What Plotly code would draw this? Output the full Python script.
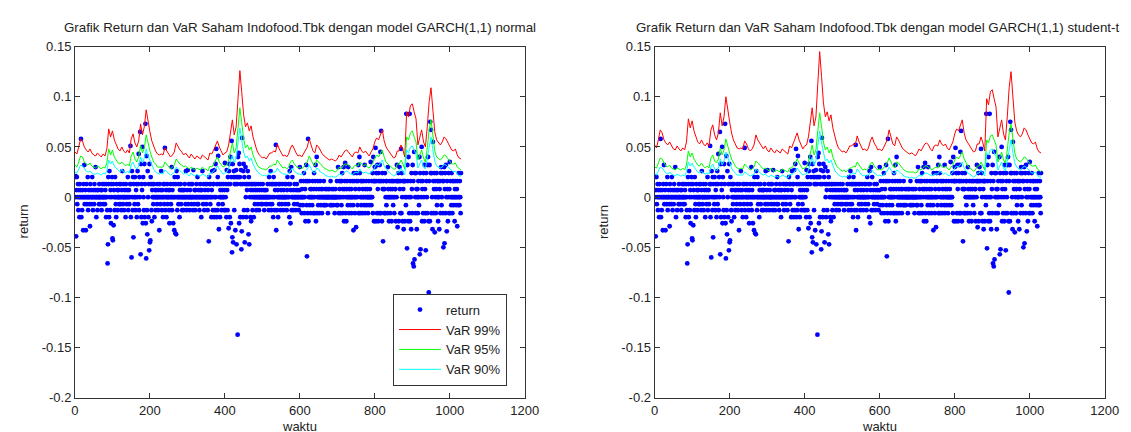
import plotly.graph_objects as go

# ---------------- data ----------------
returns = [
0.02, 0, 0.021, -0.039, 0.007, 0.02, -0.007, 0, 0.013, -0.013,
0.007, 0, -0.02, 0.013, 0, 0.007, 0.058, -0.02, 0, -0.013,
0.007, 0, -0.033, 0.013, 0, 0.032, -0.007, 0, 0.007, -0.033,
0, 0.013, -0.007, 0, 0.02, -0.013, 0, 0.007, 0, -0.007,
-0.029, 0.013, 0, 0.007, -0.007, 0, 0.02, 0, -0.013, 0.007,
0, -0.007, 0.013, 0, 0.007, 0.03, 0, -0.02, 0, 0.007,
-0.013, 0, 0.007, 0, -0.007, 0.013, 0, 0, -0.007, 0.007,
0, -0.013, 0.007, 0, 0.013, 0, -0.007, 0, 0.013, 0,
-0.007, 0.007, 0, -0.02, 0.013, 0, -0.013, -0.066, -0.047, 0.02,
0.013, -0.02, 0.026, 0, -0.013, 0.007, -0.026, 0.013, 0, 0.02,
-0.041, -0.043, 0.013, -0.028, 0.007, 0, -0.013, 0.02, 0, -0.007,
-0.02, 0.013, 0, 0.007, -0.013, 0, 0.007, 0, -0.007, 0.013,
0, -0.007, 0.013, 0, -0.013, 0.007, 0.026, 0, -0.007, 0,
0.013, -0.013, 0, 0.007, 0, -0.02, 0.013, 0, -0.007, 0.007,
0, 0.02, -0.013, 0, 0.007, -0.007, 0, 0.013, 0.051, -0.02,
0.013, -0.06, 0.026, 0, -0.013, 0.02, -0.04, 0.013, 0, -0.007,
0.02, 0, -0.013, 0.007, 0.013, -0.02, 0, 0.026, -0.007, 0.013,
0.043, -0.013, 0.02, 0, 0.065, -0.057, 0.033, -0.02, 0.013, 0.007,
0.05, -0.026, 0.02, 0, -0.013, 0.033, -0.02, 0.013, 0.073, -0.026,
-0.061, 0.041, -0.013, -0.037, 0.026, 0, -0.02, 0.013, -0.053, 0.033,
-0.045, -0.043, 0.02, 0.013, -0.013, -0.024, 0.007, 0, 0.013, -0.007,
0, 0.013, -0.02, 0, 0.007, -0.013, 0, 0.007, 0, -0.007,
0.013, 0, -0.013, 0.007, 0, -0.033, 0.013, 0, -0.007, 0.007,
0.026, 0, -0.013, 0.007, 0, -0.02, 0.013, 0, -0.007, 0.013,
0.049, -0.013, 0, 0.007, -0.02, 0, 0.013, -0.007, 0, 0.007,
0, -0.013, -0.026, 0.007, 0, 0.013, -0.007, 0, 0.03, -0.013,
0.007, 0, -0.026, 0.013, 0, -0.033, 0.02, 0, -0.036, 0.013,
-0.037, 0.026, 0, -0.013, 0.02, 0, -0.007, 0.013, 0, -0.02,
0.007, 0, 0.013, -0.007, 0, 0.007, -0.013, 0, 0.007, 0,
-0.013, 0.007, 0, 0.013, 0, -0.007, 0.026, 0, -0.013, 0.007,
0, 0.027, -0.007, 0, 0.013, 0, -0.013, 0.007, 0, 0,
0.013, -0.007, 0, 0.013, 0, -0.013, 0.027, 0, -0.007, 0.007,
0, -0.013, 0.007, 0, 0.013, 0, -0.007, 0.02, 0, -0.007,
0.007, 0, -0.013, 0, 0.013, 0.007, 0, -0.02, 0.007, 0,
0.026, 0, -0.007, 0.013, 0, -0.013, 0, 0.007, 0.013, 0,
-0.007, 0, 0.013, 0, -0.013, 0.007, 0, -0.044, 0.02, 0.013,
0, -0.007, 0.013, 0, -0.02, 0.007, 0.026, 0, -0.013, 0.013,
0.013, -0.02, 0.027, 0, -0.013, 0.033, 0, 0.048, -0.02, 0.013,
-0.013, 0.02, 0.041, -0.007, -0.032, 0.013, 0, -0.02, 0.007, 0,
0.013, -0.013, 0, 0.007, -0.007, 0, 0.013, 0, -0.013, 0.007,
0.034, -0.013, 0, 0.013, -0.02, 0.027, 0.007, -0.013, 0.02, 0.013,
-0.031, 0.026, 0.033, -0.02, 0.013, 0.04, -0.026, 0.02, 0.056, -0.055,
-0.04, 0.033, -0.045, 0.02, 0.026, -0.013, 0.013, 0.02, -0.033, 0.013,
0.027, -0.047, 0.02, 0.013, -0.137, 0.04, 0.02, 0.044, -0.026, 0.033,
0.02, -0.02, 0.013, 0.027, -0.052, -0.034, 0.059, 0.013, -0.02, 0.026,
0.033, -0.013, 0.02, -0.045, 0.013, 0.03, 0, -0.02, 0.013, 0.007,
-0.013, 0.026, 0.013, -0.037, 0.02, -0.047, 0.013, 0, -0.02, 0.007,
-0.024, 0.013, 0, 0.013, -0.013, 0.007, 0, -0.02, 0.013, 0,
-0.007, 0.007, 0, 0.013, -0.013, 0, 0.007, 0, -0.007, 0.013,
0, -0.013, 0.007, 0, 0, 0.013, -0.007, 0, 0.007, 0,
-0.007, 0.013, 0, 0, 0.007, -0.013, 0, 0.007, 0, -0.007,
0, 0.007, 0, -0.007, 0.013, 0, 0, -0.013, 0.02, 0,
0.013, -0.007, 0.026, 0, -0.013, 0.013, -0.007, 0.013, 0, -0.02,
0.02, 0.013, 0, -0.013, 0.007, 0.013, 0.052, -0.033, 0.013, -0.013,
0, 0.007, -0.02, 0, 0.013, -0.007, 0, 0.013, 0, -0.013,
0.007, 0, -0.007, 0.013, 0, 0, -0.013, 0.007, 0, 0,
0.013, -0.007, 0, 0.013, 0, -0.013, 0.007, 0.02, 0, -0.007,
0.013, 0, -0.02, 0.026, 0.013, -0.026, 0.007, 0.03, -0.013, 0,
0.02, 0, -0.013, 0.007, 0, -0.007, 0.013, 0, 0, -0.013,
0.007, 0, 0.013, -0.007, 0, 0.007, 0, -0.013, 0, 0.007,
0.03, -0.008, 0, 0.016, 0, -0.016, 0.008, 0, -0.008, 0,
0.016, 0.024, -0.016, 0, 0.008, -0.024, 0.016, 0.032, -0.008, -0.059,
0.016, -0.016, 0.058, -0.024, 0, 0.016, -0.008, 0, 0.008, -0.016,
0, 0.008, 0, -0.008, 0.016, 0, -0.016, 0.008, 0.024, 0,
-0.016, 0.016, 0.032, -0.024, 0.008, 0.04, -0.016, 0, 0.016, -0.008,
0, 0.008, -0.016, 0, 0.016, 0, -0.008, 0.008, 0, -0.016,
0.008, 0, 0, -0.008, 0.016, 0, -0.008, 0, 0.008, 0,
-0.008, 0, 0.008, 0, 0, -0.016, 0.008, 0, 0, 0.008,
0, -0.008, 0.016, 0, -0.008, 0, 0.008, 0, 0, -0.008,
0.008, 0, 0, -0.016, 0, 0.008, 0, 0, -0.008, 0.016,
0, -0.008, 0.03, 0, -0.016, 0.016, 0.008, 0, -0.016, 0.016,
0, -0.008, 0.016, 0.024, -0.016, 0.008, 0, 0.03, -0.024, 0.008,
0.016, 0.034, -0.016, 0, -0.024, 0.008, 0.016, 0, -0.008, 0.03,
0, -0.016, 0.008, 0, 0.016, -0.008, 0, 0.008, -0.016, 0,
0.016, 0, -0.008, -0.033, 0.024, 0.016, 0, -0.016, 0.008, 0,
-0.03, 0.016, 0.024, 0, -0.008, 0.016, 0.032, -0.016, 0.008, 0.04,
0.024, -0.016, 0, 0.016, -0.008, 0, 0.016, -0.016, 0.008, 0,
0.016, 0, -0.008, 0.032, -0.016, 0.008, 0, 0.016, -0.008, 0,
0.008, 0, -0.016, 0, 0.016, -0.008, 0, 0.008, 0, 0.035,
0, -0.008, 0.016, 0, 0.024, -0.016, 0.04, 0.016, -0.024, 0.016,
0.03, 0.016, 0.049, -0.024, 0.024, 0.016, -0.016, 0.032, 0.008, -0.024,
0.024, 0.016, -0.016, 0.032, 0.016, 0.045, -0.016, 0.066, 0.016, -0.024,
0.024, 0.008, -0.044, 0.016, 0.008, -0.016, 0.008, 0.024, -0.016, 0,
0.016, -0.008, 0.016, 0, -0.016, 0.03, 0.008, 0, -0.024, 0.016,
0, -0.016, 0.008, 0, 0.016, -0.024, 0, 0.008, 0.016, -0.008,
0, 0.016, -0.016, 0, 0.008, 0.008, -0.024, 0.016, 0, 0.032,
0.016, -0.03, 0.016, 0.024, -0.024, 0.016, 0.03, 0.008, -0.016, 0.016,
0.048, -0.016, 0.024, 0, -0.024, 0.016, 0.008, -0.032, 0.016, 0.016,
-0.024, 0, 0.016, -0.008, 0.083, 0, -0.051, 0.032, 0.016, -0.024,
0.04, 0, -0.016, 0.083, -0.024, 0.016, 0, -0.032, 0.024, 0.008,
-0.016, 0.032, -0.066, 0.016, -0.069, 0.045, -0.062, 0.024, 0, -0.016,
0.024, 0.008, -0.032, 0, 0.008, -0.016, 0.016, 0, -0.008, 0.04,
-0.057, 0.024, -0.052, 0.016, 0, 0.05, -0.024, 0.008, 0.016, -0.016,
0.024, 0, -0.024, 0.032, 0.008, -0.016, -0.053, 0.024, 0.016, 0,
-0.016, 0.032, 0.04, -0.024, -0.095, 0.016, 0.032, -0.024, 0.075, 0.024,
0.067, -0.016, 0.024, 0, -0.032, 0.055, 0.016, -0.016, 0.008, 0.024,
-0.035, 0.016, 0, -0.016, 0.008, 0.024, -0.008, 0.016, 0, -0.024,
0.016, 0, -0.032, 0.008, 0.016, -0.016, 0.024, 0.03, -0.008, 0,
0.024, 0.016, -0.016, -0.05, 0.016, 0.03, -0.046, 0.008, 0.024, -0.016,
0.032, 0, -0.034, 0.016, 0.008, -0.024, 0, 0.024, -0.016, 0.008,
0.035, -0.016, 0.016, 0, -0.008, 0.024, 0, -0.016, 0.016, 0,
-0.008, 0.016, 0, -0.024, 0.008, 0, 0.016, -0.008, 0, 0.008,
-0.029, 0.016, 0, -0.008, 0.024, 0, -0.008, 0.016, 0, -0.016,
0.024,
]
t_ret = list(range(len(returns)))

t_var = list(range(0, 1031, 5))

var99_normal = [
0.045,0.043,0.050,0.058,0.056,0.050,0.047,0.045,0.048,0.044,
0.042,0.041,0.044,0.042,0.040,0.043,0.041,0.048,0.068,0.060,
0.066,0.057,0.052,0.048,0.046,0.050,0.046,0.044,0.047,0.044,
0.058,0.063,0.054,0.050,0.056,0.073,0.062,0.070,0.087,0.075,
0.065,0.056,0.050,0.046,0.043,0.042,0.043,0.042,0.049,0.046,
0.042,0.040,0.042,0.045,0.054,0.050,0.047,0.045,0.042,0.044,
0.041,0.039,0.043,0.040,0.038,0.041,0.039,0.038,0.042,0.040,
0.039,0.037,0.044,0.043,0.047,0.052,0.056,0.050,0.046,0.042,
0.044,0.045,0.052,0.066,0.077,0.062,0.070,0.098,0.126,0.104,
0.082,0.070,0.074,0.066,0.071,0.060,0.052,0.047,0.043,0.041,
0.039,0.040,0.038,0.041,0.044,0.044,0.046,0.045,0.053,0.048,
0.044,0.041,0.042,0.040,0.043,0.049,0.052,0.047,0.044,0.041,
0.042,0.040,0.043,0.047,0.050,0.058,0.051,0.046,0.044,0.052,
0.050,0.046,0.043,0.041,0.039,0.038,0.037,0.038,0.037,0.036,
0.038,0.042,0.040,0.043,0.046,0.047,0.045,0.042,0.040,0.044,
0.045,0.044,0.050,0.046,0.044,0.046,0.043,0.041,0.045,0.048,
0.055,0.059,0.057,0.062,0.067,0.056,0.050,0.047,0.044,0.041,
0.039,0.040,0.046,0.046,0.052,0.047,0.040,0.085,0.080,0.091,
0.093,0.085,0.078,0.052,0.060,0.067,0.055,0.050,0.070,0.095,
0.109,0.085,0.065,0.057,0.054,0.052,0.055,0.060,0.058,0.054,
0.050,0.047,0.046,0.048,0.042,0.039,0.038]

var95_normal = [
0.032,0.030,0.035,0.041,0.040,0.035,0.033,0.032,0.034,0.031,
0.030,0.029,0.031,0.030,0.028,0.030,0.029,0.034,0.048,0.042,
0.047,0.040,0.037,0.034,0.033,0.035,0.033,0.031,0.033,0.031,
0.041,0.045,0.038,0.035,0.040,0.052,0.044,0.049,0.062,0.053,
0.046,0.040,0.035,0.033,0.030,0.030,0.030,0.030,0.035,0.033,
0.030,0.028,0.030,0.032,0.038,0.035,0.033,0.032,0.030,0.031,
0.029,0.028,0.030,0.028,0.027,0.029,0.028,0.027,0.030,0.028,
0.028,0.026,0.031,0.030,0.033,0.037,0.040,0.035,0.033,0.030,
0.031,0.032,0.037,0.047,0.054,0.044,0.049,0.069,0.089,0.074,
0.058,0.049,0.052,0.047,0.050,0.042,0.037,0.033,0.030,0.029,
0.028,0.028,0.027,0.029,0.031,0.031,0.033,0.032,0.037,0.034,
0.031,0.029,0.030,0.028,0.030,0.035,0.037,0.033,0.031,0.029,
0.030,0.028,0.030,0.033,0.035,0.041,0.036,0.033,0.031,0.037,
0.035,0.033,0.030,0.029,0.028,0.027,0.026,0.027,0.026,0.025,
0.027,0.030,0.028,0.030,0.033,0.033,0.032,0.030,0.028,0.031,
0.032,0.031,0.035,0.033,0.031,0.033,0.030,0.029,0.032,0.034,
0.039,0.042,0.040,0.044,0.047,0.040,0.035,0.033,0.031,0.029,
0.028,0.028,0.033,0.033,0.037,0.033,0.028,0.060,0.057,0.064,
0.066,0.060,0.055,0.037,0.042,0.047,0.039,0.035,0.049,0.067,
0.077,0.060,0.046,0.040,0.038,0.037,0.039,0.042,0.041,0.038,
0.035,0.033,0.033,0.034,0.030,0.028,0.027]

var90_normal = [
0.025,0.024,0.028,0.032,0.031,0.028,0.026,0.025,0.026,0.024,
0.023,0.023,0.024,0.023,0.022,0.024,0.023,0.026,0.037,0.033,
0.036,0.031,0.029,0.026,0.025,0.028,0.025,0.024,0.026,0.024,
0.032,0.035,0.030,0.028,0.031,0.040,0.034,0.039,0.048,0.041,
0.036,0.031,0.028,0.025,0.024,0.023,0.024,0.023,0.027,0.025,
0.023,0.022,0.023,0.025,0.030,0.028,0.026,0.025,0.023,0.024,
0.023,0.021,0.024,0.022,0.021,0.023,0.021,0.021,0.023,0.022,
0.021,0.020,0.024,0.024,0.026,0.029,0.031,0.028,0.025,0.023,
0.024,0.025,0.029,0.036,0.042,0.034,0.039,0.054,0.069,0.057,
0.045,0.039,0.041,0.036,0.039,0.033,0.029,0.026,0.024,0.023,
0.021,0.022,0.021,0.023,0.024,0.024,0.025,0.025,0.029,0.026,
0.024,0.023,0.023,0.022,0.024,0.027,0.029,0.026,0.024,0.023,
0.023,0.022,0.024,0.026,0.028,0.032,0.028,0.025,0.024,0.029,
0.028,0.025,0.024,0.023,0.021,0.021,0.020,0.021,0.020,0.020,
0.021,0.023,0.022,0.024,0.025,0.026,0.025,0.023,0.022,0.024,
0.025,0.024,0.028,0.025,0.024,0.025,0.024,0.023,0.025,0.026,
0.030,0.033,0.031,0.034,0.037,0.031,0.028,0.026,0.024,0.023,
0.021,0.022,0.025,0.025,0.029,0.026,0.022,0.047,0.044,0.050,
0.051,0.047,0.043,0.029,0.033,0.037,0.030,0.028,0.039,0.052,
0.060,0.047,0.036,0.031,0.030,0.029,0.030,0.033,0.032,0.030,
0.028,0.026,0.025,0.026,0.023,0.021,0.021]

var99_t = [
0.052,0.049,0.057,0.067,0.064,0.057,0.054,0.052,0.055,0.051,
0.048,0.047,0.051,0.048,0.046,0.049,0.047,0.055,0.078,0.069,
0.076,0.066,0.060,0.055,0.053,0.057,0.053,0.051,0.054,0.051,
0.067,0.072,0.062,0.057,0.064,0.084,0.071,0.080,0.100,0.086,
0.075,0.064,0.057,0.053,0.049,0.048,0.049,0.048,0.056,0.053,
0.048,0.046,0.048,0.052,0.062,0.057,0.054,0.052,0.048,0.051,
0.047,0.045,0.049,0.046,0.044,0.047,0.045,0.044,0.048,0.046,
0.045,0.043,0.051,0.049,0.054,0.060,0.064,0.057,0.053,0.048,
0.051,0.052,0.060,0.076,0.089,0.071,0.080,0.113,0.145,0.120,
0.094,0.080,0.085,0.076,0.082,0.069,0.060,0.054,0.049,0.047,
0.045,0.046,0.044,0.047,0.051,0.051,0.053,0.052,0.061,0.055,
0.051,0.047,0.048,0.046,0.049,0.056,0.060,0.054,0.051,0.047,
0.048,0.046,0.049,0.054,0.057,0.067,0.059,0.053,0.051,0.060,
0.057,0.053,0.049,0.047,0.045,0.044,0.043,0.044,0.043,0.041,
0.044,0.048,0.046,0.049,0.053,0.054,0.052,0.048,0.046,0.051,
0.052,0.051,0.057,0.053,0.051,0.053,0.049,0.047,0.052,0.055,
0.063,0.068,0.066,0.071,0.077,0.064,0.057,0.054,0.051,0.047,
0.045,0.046,0.053,0.053,0.060,0.054,0.046,0.098,0.092,0.105,
0.107,0.098,0.090,0.060,0.069,0.077,0.063,0.057,0.080,0.109,
0.125,0.098,0.075,0.066,0.062,0.060,0.063,0.069,0.067,0.062,
0.057,0.054,0.053,0.055,0.048,0.045,0.044]

var95_t = [
0.030,0.029,0.034,0.039,0.038,0.034,0.031,0.030,0.032,0.029,
0.028,0.027,0.029,0.028,0.027,0.029,0.027,0.032,0.046,0.040,
0.044,0.038,0.035,0.032,0.031,0.034,0.031,0.029,0.031,0.029,
0.039,0.042,0.036,0.034,0.038,0.049,0.042,0.047,0.058,0.050,
0.044,0.038,0.034,0.031,0.029,0.028,0.029,0.028,0.033,0.031,
0.028,0.027,0.028,0.030,0.036,0.034,0.031,0.030,0.028,0.029,
0.027,0.026,0.029,0.027,0.025,0.027,0.026,0.025,0.028,0.027,
0.026,0.025,0.029,0.029,0.031,0.035,0.038,0.034,0.031,0.028,
0.029,0.030,0.035,0.044,0.052,0.042,0.047,0.066,0.084,0.070,
0.055,0.047,0.050,0.044,0.048,0.040,0.035,0.031,0.029,0.027,
0.026,0.027,0.025,0.027,0.029,0.029,0.031,0.030,0.035,0.032,
0.029,0.027,0.028,0.027,0.029,0.033,0.035,0.031,0.029,0.027,
0.028,0.027,0.029,0.031,0.034,0.039,0.034,0.031,0.029,0.035,
0.034,0.031,0.029,0.027,0.026,0.025,0.025,0.025,0.025,0.024,
0.025,0.028,0.027,0.029,0.031,0.031,0.030,0.028,0.027,0.029,
0.030,0.029,0.034,0.031,0.029,0.031,0.029,0.027,0.030,0.032,
0.037,0.040,0.038,0.042,0.045,0.038,0.034,0.031,0.029,0.027,
0.026,0.027,0.031,0.031,0.035,0.031,0.027,0.057,0.054,0.061,
0.062,0.057,0.052,0.035,0.040,0.045,0.037,0.034,0.047,0.064,
0.073,0.057,0.044,0.038,0.036,0.035,0.037,0.040,0.039,0.036,
0.034,0.031,0.031,0.032,0.028,0.026,0.025]

var90_t = [
0.023,0.022,0.026,0.030,0.029,0.026,0.024,0.023,0.025,0.023,
0.022,0.021,0.023,0.022,0.021,0.022,0.021,0.025,0.035,0.031,
0.034,0.030,0.027,0.025,0.024,0.026,0.024,0.023,0.024,0.023,
0.030,0.033,0.028,0.026,0.029,0.038,0.032,0.036,0.045,0.039,
0.034,0.029,0.026,0.024,0.022,0.022,0.022,0.022,0.025,0.024,
0.022,0.021,0.022,0.023,0.028,0.026,0.024,0.023,0.022,0.023,
0.021,0.020,0.022,0.021,0.020,0.021,0.020,0.020,0.022,0.021,
0.020,0.019,0.023,0.022,0.024,0.027,0.029,0.026,0.024,0.022,
0.023,0.023,0.027,0.034,0.040,0.032,0.036,0.051,0.066,0.054,
0.043,0.036,0.038,0.034,0.037,0.031,0.027,0.024,0.022,0.021,
0.020,0.021,0.020,0.021,0.023,0.023,0.024,0.023,0.028,0.025,
0.023,0.021,0.022,0.021,0.022,0.025,0.027,0.024,0.023,0.021,
0.022,0.021,0.022,0.024,0.026,0.030,0.027,0.024,0.023,0.027,
0.026,0.024,0.022,0.021,0.020,0.020,0.019,0.020,0.019,0.019,
0.020,0.022,0.021,0.022,0.024,0.024,0.023,0.022,0.021,0.023,
0.023,0.023,0.026,0.024,0.023,0.024,0.022,0.021,0.023,0.025,
0.029,0.031,0.030,0.032,0.035,0.029,0.026,0.024,0.023,0.021,
0.020,0.021,0.024,0.024,0.027,0.024,0.021,0.044,0.042,0.047,
0.048,0.044,0.041,0.027,0.031,0.035,0.029,0.026,0.036,0.049,
0.057,0.044,0.034,0.030,0.028,0.027,0.029,0.031,0.030,0.028,
0.026,0.024,0.024,0.025,0.022,0.020,0.020]

x_ticks = [0, 200, 400, 600, 800, 1000, 1200]
y_ticks = [0.15, 0.1, 0.05, 0, -0.05, -0.1, -0.15, -0.2]
y_tick_text = ["0.15", "0.1", "0.05", "0", "-0.05", "-0.1", "-0.15", "-0.2"]

titles = ["Grafik Return dan VaR Saham Indofood.Tbk dengan model GARCH(1,1) normal",
          "Grafik Return dan VaR Saham Indofood.Tbk dengan model GARCH(1,1) student-t"]

# ---------------- figure ----------------
FONT = "Liberation Sans, Arial, Helvetica, sans-serif"
W, H = 1131, 432
dom_left = [64 / W, 521 / W]
dom_right = [653 / W, 1110.5 / W]
dom_y = [1 - 396.7 / H, 1 - 32.7 / H]

fig = go.Figure()

series_sets = [
    ("x", "y", var99_normal, var95_normal, var90_normal, True),
    ("x2", "y2", var99_t, var95_t, var90_t, False),
]
for xa, ya, v99, v95, v90, show in series_sets:
    fig.add_trace(go.Scatter(x=t_ret, y=returns, mode="markers", name="return",
                             marker=dict(color="#0000ff", size=4.8, line=dict(width=0)),
                             xaxis=xa, yaxis=ya, showlegend=show))
    fig.add_trace(go.Scatter(x=t_var, y=v99, mode="lines", name="VaR 99%",
                             line=dict(color="#ff0000", width=1),
                             xaxis=xa, yaxis=ya, showlegend=show))
    fig.add_trace(go.Scatter(x=t_var, y=v95, mode="lines", name="VaR 95%",
                             line=dict(color="#00ff00", width=1),
                             xaxis=xa, yaxis=ya, showlegend=show))
    fig.add_trace(go.Scatter(x=t_var, y=v90, mode="lines", name="VaR 90%",
                             line=dict(color="#00ffff", width=1),
                             xaxis=xa, yaxis=ya, showlegend=show))

axis_common = dict(showline=True, linecolor="#333333", linewidth=1, mirror="ticks",
                   ticks="inside", ticklen=5, tickcolor="#333333", showgrid=False,
                   zeroline=False, tickfont=dict(family=FONT, size=13, color="#222222"))

fig.update_layout(
    width=W, height=H,
    margin=dict(l=0, r=0, t=0, b=0),
    paper_bgcolor="white", plot_bgcolor="white",
    font=dict(family=FONT, size=13, color="#222222"),
    xaxis=dict(domain=dom_left, range=[0, 1200], tickvals=x_ticks, anchor="y", **axis_common),
    yaxis=dict(domain=dom_y, range=[-0.2, 0.15], tickvals=y_ticks, ticktext=y_tick_text,
               anchor="x", **axis_common),
    xaxis2=dict(domain=dom_right, range=[0, 1200], tickvals=x_ticks, anchor="y2", **axis_common),
    yaxis2=dict(domain=dom_y, range=[-0.2, 0.15], tickvals=y_ticks, ticktext=y_tick_text,
                anchor="x2", **axis_common),
    legend=dict(x=503 / W, xanchor="right", y=1 - 384 / H, yanchor="bottom",
                bordercolor="#333333", borderwidth=1, bgcolor="white",
                font=dict(family=FONT, size=13, color="#222222"),
                itemwidth=42, tracegroupgap=0),
    showlegend=True,
)

title_centers = [292.5 / W, 879 / W]
ann = []
for dom, title, tc in ((dom_left, titles[0], title_centers[0]),
                       (dom_right, titles[1], title_centers[1])):
    cx = (dom[0] + dom[1]) / 2
    ann.append(dict(text=title, x=tc, y=1 - 13 / H, xref="paper", yref="paper",
                    xanchor="center", yanchor="middle", showarrow=False,
                    font=dict(family=FONT, size=13.3, color="#222222")))
    ann.append(dict(text="waktu", x=cx, y=1 - 426 / H, xref="paper", yref="paper",
                    xanchor="center", yanchor="middle", showarrow=False,
                    font=dict(family=FONT, size=13, color="#222222")))
    ann.append(dict(text="return", x=(dom[0] * W - 52) / W, y=1 - 214 / H,
                    xref="paper", yref="paper", xanchor="center", yanchor="middle",
                    textangle=-90, showarrow=False,
                    font=dict(family=FONT, size=13, color="#222222")))
fig.update_layout(annotations=ann)

fig.write_html("out.html")
